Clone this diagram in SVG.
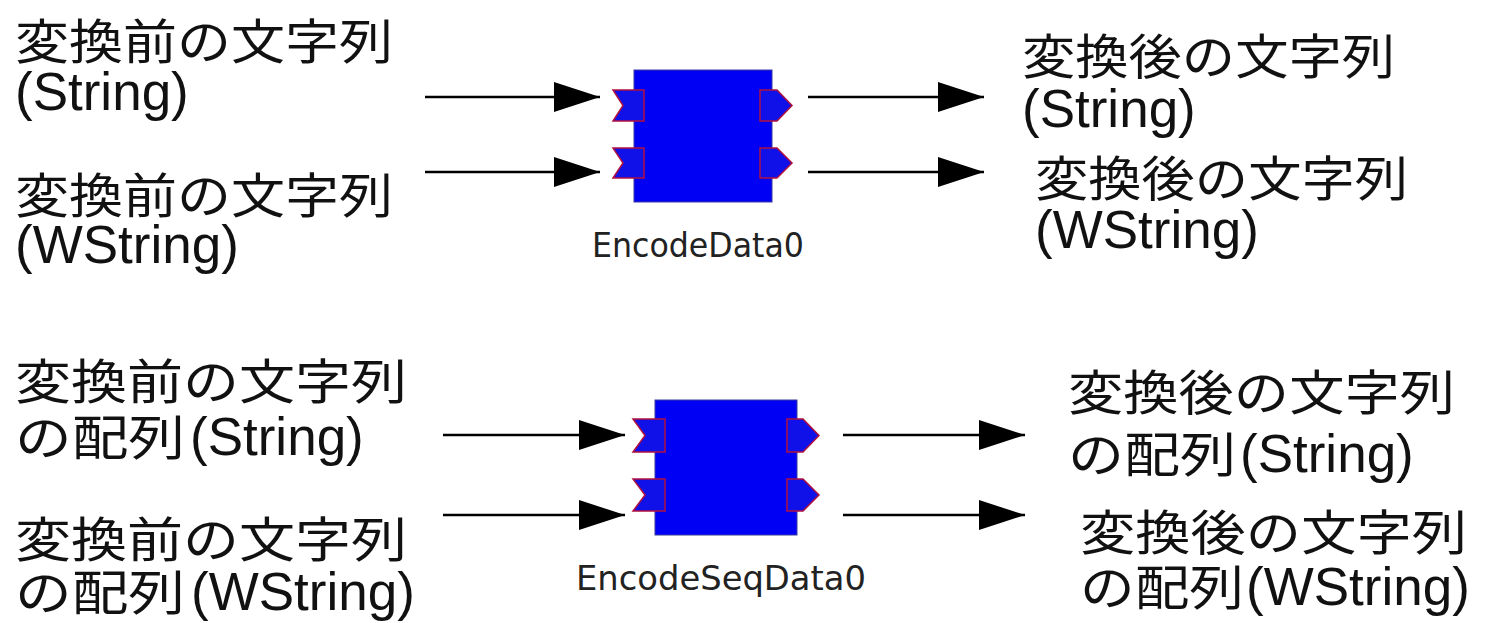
<svg xmlns="http://www.w3.org/2000/svg" width="1488" height="623" viewBox="0 0 1488 623">
<defs>
<style>
.jp{font-family:"Noto Sans CJK JP","Noto Sans CJK SC",sans-serif;font-size:48px;fill:#111;}
.en{font-family:"Liberation Sans",Arial,sans-serif;font-size:53px;fill:#111;}
.lbl{font-family:"DejaVu Sans","Liberation Sans",sans-serif;font-size:33px;fill:#222;}
.body{fill:#0000f5;stroke:#3a3aa0;stroke-width:1;}
.port{fill:#1010e8;stroke:#b01040;stroke-width:1.5;}
.conn{stroke:#000;stroke-width:2.5;fill:none;marker-end:url(#ah);}
</style>
<marker id="ah" markerUnits="userSpaceOnUse" markerWidth="48" markerHeight="32" refX="46" refY="15" orient="auto">
<path d="M0,0 L46,15 L0,30 Z" fill="#000"/>
</marker>
</defs>
<rect width="1488" height="623" fill="#fff"/>

<g id="connectors">
<line class="conn" x1="425" y1="97" x2="600" y2="97"/>
<line class="conn" x1="425" y1="172" x2="600" y2="172"/>
<line class="conn" x1="808" y1="97" x2="984" y2="97"/>
<line class="conn" x1="808" y1="172" x2="984" y2="172"/>
<line class="conn" x1="443" y1="435" x2="625" y2="435"/>
<line class="conn" x1="443" y1="515" x2="625" y2="515"/>
<line class="conn" x1="843" y1="435" x2="1025" y2="435"/>
<line class="conn" x1="843" y1="515" x2="1025" y2="515"/>
</g>

<g id="EncodeData0">
<rect class="body" x="634" y="70" width="138" height="132"/>
<polygon class="port" points="613,90 644,90 644,121 613,121 623,105.5"/>
<polygon class="port" points="613,148 644,148 644,178 613,178 623,163"/>
<polygon class="port" points="760,90 777,90 792,105.5 777,121 760,121"/>
<polygon class="port" points="760,148 777,148 792,163 777,178 760,178"/>
<text class="lbl" x="698" y="257" text-anchor="middle" textLength="212" lengthAdjust="spacingAndGlyphs">EncodeData0</text>
</g>

<g id="EncodeSeqData0">
<rect class="body" x="655" y="400" width="142" height="135"/>
<polygon class="port" points="633,419 665,419 665,452 633,452 645,435.5"/>
<polygon class="port" points="633,479 665,479 665,511 633,511 645,495"/>
<polygon class="port" points="787,419 803,419 819,435.5 803,452 787,452"/>
<polygon class="port" points="787,479 803,479 819,495 803,511 787,511"/>
<text class="lbl" x="721" y="590" text-anchor="middle" textLength="290" lengthAdjust="spacingAndGlyphs">EncodeSeqData0</text>
</g>

<g id="in-string">
<text class="jp" x="15" y="59" textLength="378" lengthAdjust="spacingAndGlyphs">変換前の文字列</text>
<text class="en" x="15" y="110">(String)</text>
</g>
<g id="in-wstring">
<text class="jp" x="15" y="213" textLength="378" lengthAdjust="spacingAndGlyphs">変換前の文字列</text>
<text class="en" x="15" y="263">(WString)</text>
</g>
<g id="out-string">
<text class="jp" x="1022" y="74" textLength="373" lengthAdjust="spacingAndGlyphs">変換後の文字列</text>
<text class="en" x="1022" y="127">(String)</text>
</g>
<g id="out-wstring">
<text class="jp" x="1035" y="196" textLength="373" lengthAdjust="spacingAndGlyphs">変換後の文字列</text>
<text class="en" x="1035" y="248">(WString)</text>
</g>

<g id="in-seq-string">
<text class="jp" x="15" y="399" textLength="392" lengthAdjust="spacingAndGlyphs">変換前の文字列</text>
<text class="jp" x="15" y="455" textLength="170" lengthAdjust="spacingAndGlyphs">の配列</text>
<text class="en" x="190" y="455">(String)</text>
</g>
<g id="in-seq-wstring">
<text class="jp" x="15" y="557" textLength="392" lengthAdjust="spacingAndGlyphs">変換前の文字列</text>
<text class="jp" x="15" y="610" textLength="170" lengthAdjust="spacingAndGlyphs">の配列</text>
<text class="en" x="191" y="610">(WString)</text>
</g>
<g id="out-seq-string">
<text class="jp" x="1068" y="410" textLength="387" lengthAdjust="spacingAndGlyphs">変換後の文字列</text>
<text class="jp" x="1068" y="472" textLength="168" lengthAdjust="spacingAndGlyphs">の配列</text>
<text class="en" x="1240" y="472">(String)</text>
</g>
<g id="out-seq-wstring">
<text class="jp" x="1080" y="550" textLength="387" lengthAdjust="spacingAndGlyphs">変換後の文字列</text>
<text class="jp" x="1080" y="605" textLength="164" lengthAdjust="spacingAndGlyphs">の配列</text>
<text class="en" x="1246" y="605">(WString)</text>
</g>
</svg>
